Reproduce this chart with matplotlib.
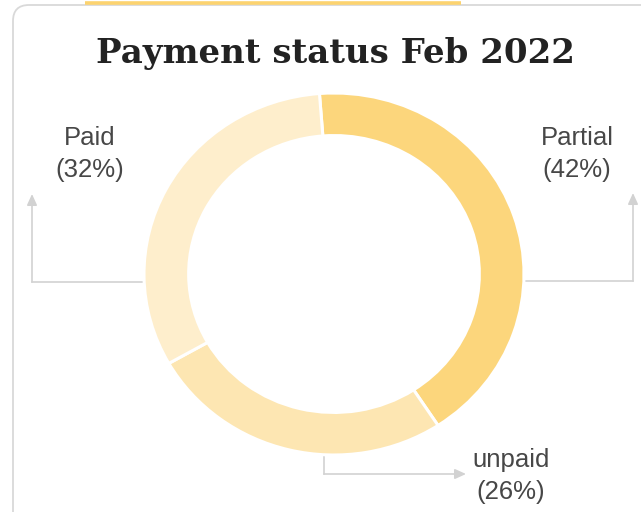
import numpy as np
import matplotlib.pyplot as plt
from matplotlib.patches import FancyBboxPatch

# Payment status, Feb 2022 (clockwise from the top)
labels = ["Partial", "unpaid", "Paid"]
shares = [42, 26, 32]
colors = ["#fcd67c", "#fde6b2", "#feeecc"]
title = "Payment status Feb 2022"

W, H = 641, 512
fig = plt.figure(figsize=(W / 100, H / 100), dpi=100)

# background layer in pixel coordinates (card, title, labels, leader lines)
bg = fig.add_axes([0, 0, 1, 1])
bg.set_xlim(0, W)
bg.set_ylim(H, 0)
bg.axis("off")

card = FancyBboxPatch((13, 5), 700, 560, boxstyle="round,pad=0,rounding_size=16",
                      fc="white", ec="#d9d9d9", lw=1.3)
bg.add_patch(card)
bg.plot([85, 461], [3, 3], color="#fcd36f", lw=2.6, solid_capstyle="butt")

bg.text(335, 54, title, ha="center", va="center", fontsize=24.5,
        fontweight="bold", family="DejaVu Serif", color="#222222")

# donut
cx, cy, rx, ry = 334, 274, 190, 181
ax = fig.add_axes([(cx - rx) / W, (H - cy - ry) / H, 2 * rx / W, 2 * ry / H])
wedges, _ = ax.pie(shares, colors=colors, startangle=94.4, counterclock=False,
                   radius=1, wedgeprops=dict(width=0.235, edgecolor="white", linewidth=2.2))
ax.set_aspect("auto")
ax.set_xlim(-1, 1)
ax.set_ylim(-1, 1)
ax.patch.set_visible(False)

# labels and leader lines
line_col = "#d2d2d2"
arrow = dict(arrowstyle="-|>,head_length=0.55,head_width=0.25", color=line_col,
             lw=1.2, shrinkA=0, shrinkB=0, mutation_scale=12)
txt = dict(ha="center", va="center", fontsize=18.5, family="Liberation Sans",
           color="#474747", linespacing=1.45)

label_pos = {"Partial": (577, 154), "unpaid": (511, 476), "Paid": (90, 154)}
for lab, val in zip(labels, shares):
    x, y = label_pos[lab]
    bg.text(x, y, f"{lab}\n({val}%)", **txt)

# Partial: right side
bg.plot([cx + rx, 633], [cy + 7, cy + 7], color=line_col, lw=1.2)
bg.annotate("", xy=(633, 193), xytext=(633, cy + 7), arrowprops=arrow)
# Paid: left side
bg.plot([cx - rx, 32], [cy + 8, cy + 8], color=line_col, lw=1.2)
bg.annotate("", xy=(32, 194), xytext=(32, cy + 8), arrowprops=arrow)
# unpaid: bottom
bg.plot([324, 324], [cy + ry, 474], color=line_col, lw=1.2)
bg.annotate("", xy=(466, 474), xytext=(324, 474), arrowprops=arrow)

fig.savefig("out.png", dpi=100)
